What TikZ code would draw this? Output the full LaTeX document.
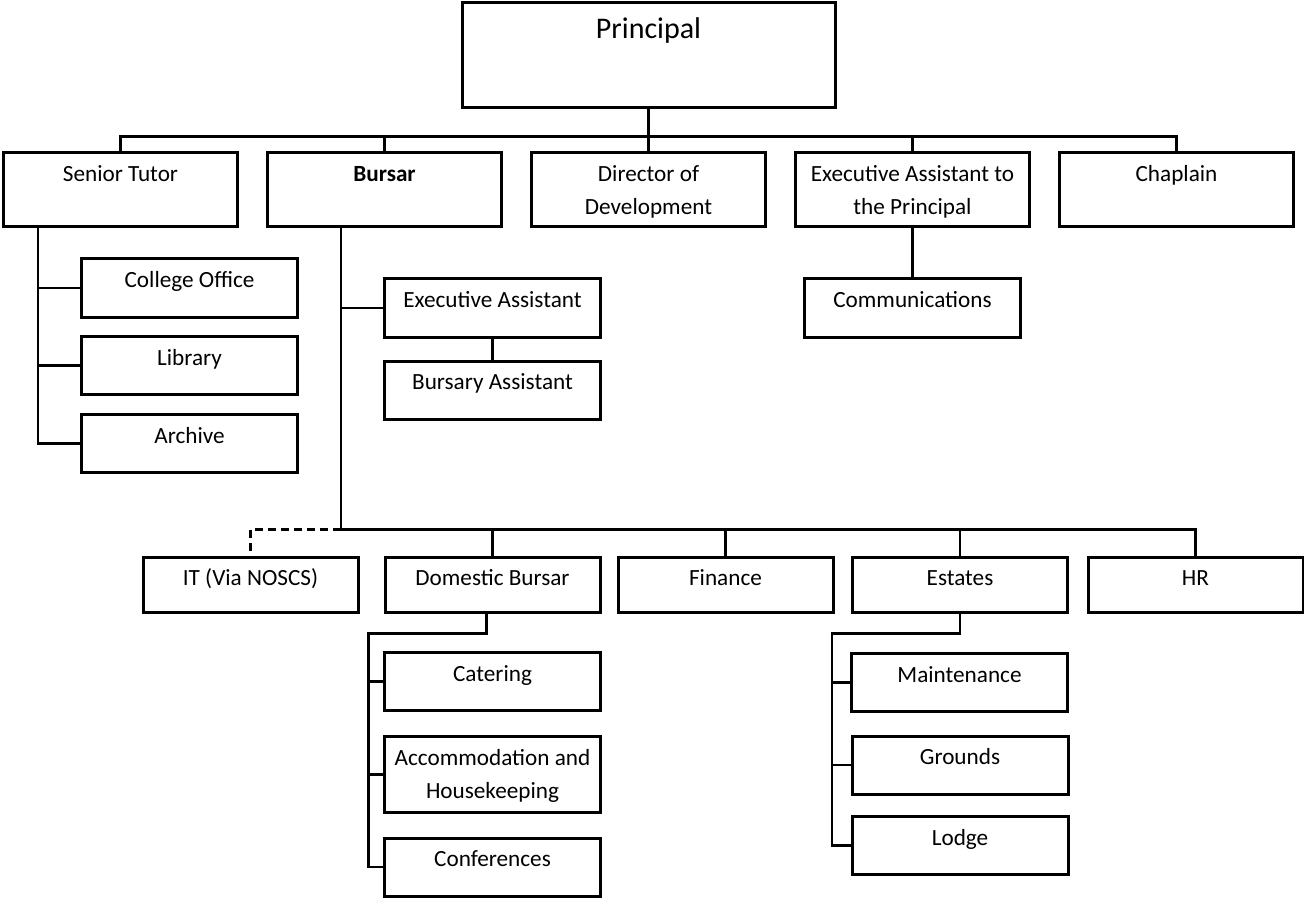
\documentclass[tikz,border=0pt]{standalone}
\usepackage{fontspec}
\setmainfont{Carlito}
\usetikzlibrary{calc}

\tikzset{
  post/.style={draw, line width=1.5pt, inner sep=0pt},
  role/.style={post, minimum width=117pt, minimum height=37pt},
  unit/.style={post, minimum width=108pt, minimum height=29pt},
  dept/.style={post, minimum width=107.5pt, minimum height=27.5pt},
  caption/.style={anchor=base, yshift=-15pt, align=center, inner sep=0pt,
    font=\fontsize{11.6}{16.5}\selectfont},
  twoline/.style={caption, yshift=-16.5pt},
  link/.style={line width=1.1pt},
}

\begin{document}
\begin{tikzpicture}[x=0.5pt, y=-0.5pt,
    level distance=67.25pt,
    sibling distance=132pt,
    edge from parent/.style={draw, link},
    edge from parent path=
    {(\tikzparentnode.south) -- ++(0,-13.5pt) -| (\tikzchildnode.north)}]

\useasboundingbox (0,0) rectangle (1304,898);

\node[post, minimum width=186.5pt, minimum height=52.5pt,
      label={[caption, yshift=-3.5pt, font=\fontsize{15}{18}\selectfont]north:Principal}] (principal) at (648.5,55.5) {}
    child {node[role, label={[caption]north:Senior Tutor}] (tutor) {}}
    child {node[role, label={[caption]north:\textbf{Bursar}}] (bursar) {}}
    child {node[role, label={[twoline]north:Director of\\Development}] (director) {}}
    child {node[role, label={[twoline]north:Executive Assistant to\\the Principal}] (eap) {}}
    child {node[role, label={[caption]north:Chaplain}] (chaplain) {}};

% senior tutor
\node[unit, label={[caption]north:College Office}] (office) at (189.5,288) {};
\node[unit, label={[caption]north:Library}] (library) at (189.5,365.5) {};
\node[unit, label={[caption]north:Archive}] (archive) at (189.5,443.5) {};

% bursar
\node[unit, label={[caption]north:Executive Assistant}] (execasst) at (492.5,308) {};
\node[unit, label={[caption]north:Bursary Assistant}] (bursasst) at (492.5,390) {};

% executive assistant to the principal
\node[unit, label={[caption]north:Communications}] (comms) at (912.5,308) {};

% departments
\node[dept, label={[caption]north:IT (Via NOSCS)}] (it) at (250.5,584.5) {};
\node[dept, label={[caption]north:Domestic Bursar}] (dbursar) at (492.5,584.5) {};
\node[dept, label={[caption]north:Finance}] (finance) at (725.5,584.5) {};
\node[dept, label={[caption]north:Estates}] (estates) at (960,584.5) {};
\node[dept, label={[caption]north:HR}] (hr) at (1195.5,584.5) {};

% domestic bursar
\node[unit, label={[caption]north:Catering}] (catering) at (492.5,681.5) {};
\node[unit, minimum height=38pt, label={[twoline]north:Accommodation and\\Housekeeping}] (accom) at (492.5,774.5) {};
\node[unit, label={[caption]north:Conferences}] (conf) at (492.5,867) {};

% estates
\node[unit, label={[caption]north:Maintenance}] (maint) at (959.5,682.5) {};
\node[unit, label={[caption]north:Grounds}] (grounds) at (960,765) {};
\node[unit, label={[caption]north:Lodge}] (lodge) at (960,845.5) {};

% connectors
\draw[link] ($(tutor.south west)+(36,0)$) coordinate (tspine) |- (archive.west);
\foreach \n in {office,library}
  \draw[link] (\n.west) -- (\n.west -| tspine);

\draw[link] ($(bursar.south west)+(75,0)$) coordinate (bspine) -- ++(0,301) coordinate (bbar) -| (hr.north);
\draw[link] (execasst.west) -- (execasst.west -| bspine);
\draw[link] (execasst.south) -- (bursasst.north);
\foreach \n in {dbursar,finance,estates}
  \draw[link] (bbar) -| (\n.north);
\draw[link, dash pattern=on 4pt off 2.5pt] (bbar) -| (it.north);

\draw[link] (eap.south) -- (comms.north);

\draw[link] ($(dbursar.south)+(-6,0)$) |- ++(-118,20) coordinate (dspine) |- (conf.west);
\foreach \n in {catering,accom}
  \draw[link] (\n.west) -- (\n.west -| dspine);

\draw[link] (estates.south) |- ++(-128,20) coordinate (espine) |- (lodge.west);
\foreach \n in {maint,grounds}
  \draw[link] (\n.west) -- (\n.west -| espine);

\end{tikzpicture}
\end{document}
